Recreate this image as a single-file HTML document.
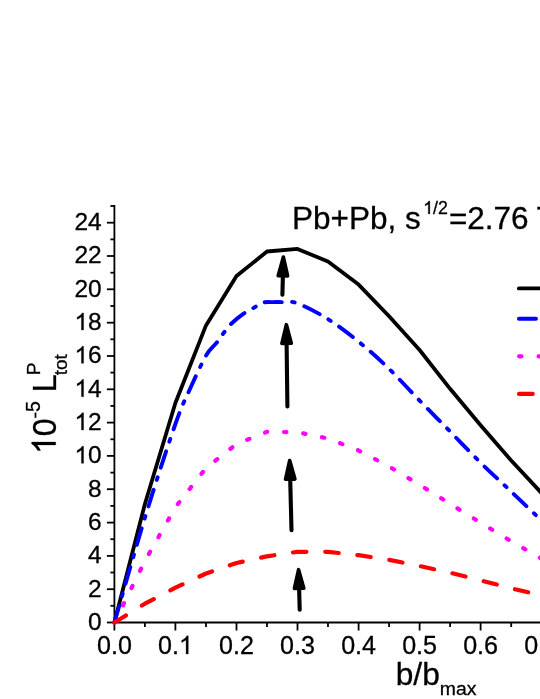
<!DOCTYPE html>
<html><head><meta charset="utf-8"><style>
html,body{margin:0;padding:0;background:#fff;}
body{width:540px;height:699px;overflow:hidden;position:relative;font-family:"Liberation Sans",sans-serif;}
svg{position:absolute;left:0;top:0;will-change:transform;}
text{font-family:"Liberation Sans",sans-serif;fill:#000;stroke:#000;stroke-width:0.3px;}
</style></head><body>
<svg width="540" height="699" viewBox="0 0 540 699">
<rect width="540" height="699" fill="#fff"/>

<g stroke="#000" stroke-width="1.8" fill="none">
<line x1="114.4" y1="205.1" x2="114.4" y2="623.4"/>
<line x1="113.5" y1="622.5" x2="540" y2="622.5"/>
<line x1="106.9" y1="622.5" x2="114.4" y2="622.5"/>
<line x1="110.4" y1="605.8" x2="114.4" y2="605.8"/>
<line x1="106.9" y1="589.2" x2="114.4" y2="589.2"/>
<line x1="110.4" y1="572.5" x2="114.4" y2="572.5"/>
<line x1="106.9" y1="555.9" x2="114.4" y2="555.9"/>
<line x1="110.4" y1="539.2" x2="114.4" y2="539.2"/>
<line x1="106.9" y1="522.6" x2="114.4" y2="522.6"/>
<line x1="110.4" y1="505.9" x2="114.4" y2="505.9"/>
<line x1="106.9" y1="489.2" x2="114.4" y2="489.2"/>
<line x1="110.4" y1="472.6" x2="114.4" y2="472.6"/>
<line x1="106.9" y1="455.9" x2="114.4" y2="455.9"/>
<line x1="110.4" y1="439.3" x2="114.4" y2="439.3"/>
<line x1="106.9" y1="422.6" x2="114.4" y2="422.6"/>
<line x1="110.4" y1="405.9" x2="114.4" y2="405.9"/>
<line x1="106.9" y1="389.3" x2="114.4" y2="389.3"/>
<line x1="110.4" y1="372.6" x2="114.4" y2="372.6"/>
<line x1="106.9" y1="356.0" x2="114.4" y2="356.0"/>
<line x1="110.4" y1="339.3" x2="114.4" y2="339.3"/>
<line x1="106.9" y1="322.7" x2="114.4" y2="322.7"/>
<line x1="110.4" y1="306.0" x2="114.4" y2="306.0"/>
<line x1="106.9" y1="289.3" x2="114.4" y2="289.3"/>
<line x1="110.4" y1="272.7" x2="114.4" y2="272.7"/>
<line x1="106.9" y1="256.0" x2="114.4" y2="256.0"/>
<line x1="110.4" y1="239.4" x2="114.4" y2="239.4"/>
<line x1="106.9" y1="222.7" x2="114.4" y2="222.7"/>
<line x1="110.4" y1="206.0" x2="114.4" y2="206.0"/>
<line x1="114.4" y1="622.5" x2="114.4" y2="630.5"/>
<line x1="144.9" y1="622.5" x2="144.9" y2="627.0"/>
<line x1="175.4" y1="622.5" x2="175.4" y2="630.5"/>
<line x1="206.0" y1="622.5" x2="206.0" y2="627.0"/>
<line x1="236.5" y1="622.5" x2="236.5" y2="630.5"/>
<line x1="267.0" y1="622.5" x2="267.0" y2="627.0"/>
<line x1="297.5" y1="622.5" x2="297.5" y2="630.5"/>
<line x1="328.0" y1="622.5" x2="328.0" y2="627.0"/>
<line x1="358.6" y1="622.5" x2="358.6" y2="630.5"/>
<line x1="389.1" y1="622.5" x2="389.1" y2="627.0"/>
<line x1="419.6" y1="622.5" x2="419.6" y2="630.5"/>
<line x1="450.1" y1="622.5" x2="450.1" y2="627.0"/>
<line x1="480.6" y1="622.5" x2="480.6" y2="630.5"/>
<line x1="511.2" y1="622.5" x2="511.2" y2="627.0"/>
<line x1="541.7" y1="622.5" x2="541.7" y2="630.5"/>
</g>
<text transform="translate(101.7,629.9) scale(1,0.975)" font-size="24.5" text-anchor="end">0</text>
<text transform="translate(101.7,596.6) scale(1,0.975)" font-size="24.5" text-anchor="end">2</text>
<text transform="translate(101.7,563.3) scale(1,0.975)" font-size="24.5" text-anchor="end">4</text>
<text transform="translate(101.7,530.0) scale(1,0.975)" font-size="24.5" text-anchor="end">6</text>
<text transform="translate(101.7,496.6) scale(1,0.975)" font-size="24.5" text-anchor="end">8</text>
<text transform="translate(101.7,463.3) scale(1,0.975)" font-size="24.5" text-anchor="end">0</text>
<path transform="translate(74.45,463.32) scale(0.01196,-0.01166)" d="M763 0H583V1147Q518 1085 412.5 1023T223 930V1104Q374 1175 487 1276T647 1472H763Z" fill="#000" stroke="#000" stroke-width="0.3" vector-effect="non-scaling-stroke"/>
<text transform="translate(101.7,430.0) scale(1,0.975)" font-size="24.5" text-anchor="end">2</text>
<path transform="translate(74.45,430.00) scale(0.01196,-0.01166)" d="M763 0H583V1147Q518 1085 412.5 1023T223 930V1104Q374 1175 487 1276T647 1472H763Z" fill="#000" stroke="#000" stroke-width="0.3" vector-effect="non-scaling-stroke"/>
<text transform="translate(101.7,396.7) scale(1,0.975)" font-size="24.5" text-anchor="end">4</text>
<path transform="translate(74.45,396.69) scale(0.01196,-0.01166)" d="M763 0H583V1147Q518 1085 412.5 1023T223 930V1104Q374 1175 487 1276T647 1472H763Z" fill="#000" stroke="#000" stroke-width="0.3" vector-effect="non-scaling-stroke"/>
<text transform="translate(101.7,363.4) scale(1,0.975)" font-size="24.5" text-anchor="end">6</text>
<path transform="translate(74.45,363.37) scale(0.01196,-0.01166)" d="M763 0H583V1147Q518 1085 412.5 1023T223 930V1104Q374 1175 487 1276T647 1472H763Z" fill="#000" stroke="#000" stroke-width="0.3" vector-effect="non-scaling-stroke"/>
<text transform="translate(101.7,330.1) scale(1,0.975)" font-size="24.5" text-anchor="end">8</text>
<path transform="translate(74.45,330.06) scale(0.01196,-0.01166)" d="M763 0H583V1147Q518 1085 412.5 1023T223 930V1104Q374 1175 487 1276T647 1472H763Z" fill="#000" stroke="#000" stroke-width="0.3" vector-effect="non-scaling-stroke"/>
<text transform="translate(101.7,296.7) scale(1,0.975)" font-size="24.5" text-anchor="end">20</text>
<text transform="translate(101.7,263.4) scale(1,0.975)" font-size="24.5" text-anchor="end">22</text>
<text transform="translate(101.7,230.1) scale(1,0.975)" font-size="24.5" text-anchor="end">24</text>
<text transform="translate(114.4,653.9) scale(1,1.000)" font-size="25.1" text-anchor="middle">0.0</text>
<text transform="translate(157.99,653.9) scale(1,1.000)" font-size="25.1">0.</text>
<path transform="translate(178.93,653.90) scale(0.01226,-0.01226)" d="M763 0H583V1147Q518 1085 412.5 1023T223 930V1104Q374 1175 487 1276T647 1472H763Z" fill="#000" stroke="#000" stroke-width="0.3" vector-effect="non-scaling-stroke"/>
<text transform="translate(236.5,653.9) scale(1,1.000)" font-size="25.1" text-anchor="middle">0.2</text>
<text transform="translate(297.5,653.9) scale(1,1.000)" font-size="25.1" text-anchor="middle">0.3</text>
<text transform="translate(358.6,653.9) scale(1,1.000)" font-size="25.1" text-anchor="middle">0.4</text>
<text transform="translate(419.6,653.9) scale(1,1.000)" font-size="25.1" text-anchor="middle">0.5</text>
<text transform="translate(480.6,653.9) scale(1,1.000)" font-size="25.1" text-anchor="middle">0.6</text>
<text transform="translate(541.7,653.9) scale(1,1.000)" font-size="25.1" text-anchor="middle">0.7</text>
<text transform="translate(395.7,684.6) scale(1,0.985)" font-size="31.7">b/b<tspan dy="10.8" font-size="19.4">max</tspan></text>
<g transform="translate(55.7,454) rotate(-90)"><path transform="scale(0.015625,-0.016328)" d="M763 0H583V1147Q518 1085 412.5 1023T223 930V1104Q374 1175 487 1276T647 1472H763Z" fill="#000" stroke="#000" stroke-width="0.3" vector-effect="non-scaling-stroke"/><text transform="translate(17.8,0) scale(1,1.045)" font-size="32">0</text><rect x="36.2" y="-21.1" width="5.2" height="1.75" fill="#000"/><text x="42.1" y="-15.4" font-size="19.5">5</text><text transform="translate(61.8,0) scale(1,1.045)" font-size="32">L</text><text x="78.7" y="-15.5" font-size="19">P</text><text x="78.7" y="11.3" font-size="19">tot</text></g>
<text transform="translate(292.1,228.9) scale(1,0.985)" font-size="31.5">Pb+Pb, s</text>
<path transform="translate(423.20,213.90) scale(0.00869,-0.00869)" d="M763 0H583V1147Q518 1085 412.5 1023T223 930V1104Q374 1175 487 1276T647 1472H763Z" fill="#000" stroke="#000" stroke-width="0.3" vector-effect="non-scaling-stroke"/>
<text transform="translate(433.1,213.9)" font-size="17.8">/2</text>
<text transform="translate(448.9,228.9) scale(1,0.985)" font-size="31.5">=2.76 TeV</text>
<g fill="none" stroke-linecap="round" stroke-linejoin="round">
<path d="M114.4 622.5 L144.9 504.0 L175.4 403.0 L206.0 325.4 L236.5 276.1 L267.0 251.5 L297.5 248.9 L328.0 261.6 L358.6 284.6 L389.1 316.3 L419.6 350.0 L450.1 388.8 L480.6 425.2 L511.2 460.5 L541.7 493.2" stroke="#000" stroke-width="3.8"/>
<path d="M114.4 622.5 L144.9 561.0 L175.4 507.2 L206.0 468.0 L236.5 444.0 L267.0 431.8 L297.5 432.2 L328.0 438.5 L358.6 450.5 L389.1 466.5 L419.6 484.8 L450.1 503.8 L480.6 522.8 L511.2 541.2 L541.7 558.7" stroke="#f0f" stroke-width="4.2" stroke-dasharray="2.40 16.81" stroke-dashoffset="0.00"/>
<path d="M114.4 622.5 C119.5 605.1 134.7 551.1 144.8 518.0 C155.0 484.9 167.8 445.6 175.4 424.0 C183.0 402.4 185.1 399.9 190.2 388.5 C195.3 377.1 201.8 363.1 206.1 355.5 C210.4 347.9 213.5 346.8 216.3 343.1 C219.2 339.5 220.8 336.7 223.2 333.6 C225.6 330.5 227.2 327.7 230.6 324.4 C234.0 321.1 239.6 316.5 243.6 313.7 C247.6 310.9 251.1 309.4 254.3 307.5 C257.5 305.6 259.7 303.5 262.8 302.6 C265.9 301.7 269.5 302.2 273.0 302.1 C276.5 302.0 279.8 302.0 283.9 302.2 C288.0 302.4 290.2 300.6 297.6 303.4 C305.0 306.2 318.0 312.8 328.1 319.2 C338.3 325.6 348.5 333.4 358.7 341.7 C368.9 350.0 379.1 359.1 389.2 369.0 C399.4 378.9 409.6 390.3 419.8 400.8 C430.0 411.3 440.2 421.4 450.4 431.8 C460.5 442.2 470.7 453.0 480.9 463.0 C491.1 473.0 501.3 482.1 511.4 491.8 C521.6 501.5 536.9 516.1 542.0 521.0" stroke="#00f" stroke-width="3.9" stroke-dasharray="17.20 10.20 2.80 10.19" stroke-dashoffset="0.00"/>
<path d="M114.4 622.5 L144.9 603.7 L175.4 587.7 L206.0 573.5 L236.5 563.0 L267.0 556.3 L297.5 551.8 L328.0 551.8 L358.6 555.2 L389.1 559.8 L419.6 566.0 L450.1 572.7 L480.6 580.4 L511.2 588.3 L541.7 595.5" stroke="#f00" stroke-width="4.2" stroke-dasharray="13.50 18.79" stroke-dashoffset="0.00"/>
<line x1="518.8" y1="288.4" x2="545" y2="288.4" stroke="#000" stroke-width="3.7"/>
<line x1="518.9" y1="318.8" x2="536" y2="318.8" stroke="#00f" stroke-width="3.9"/>
<line x1="519.1" y1="356.3" x2="545" y2="356.3" stroke="#f0f" stroke-width="4.2" stroke-dasharray="2.4 17.1"/>
<line x1="519" y1="393.9" x2="532.7" y2="393.9" stroke="#f00" stroke-width="4.2"/>
</g>
<line x1="282.4" y1="294.7" x2="282.9" y2="275.8" stroke="#000" stroke-width="4.1" stroke-linecap="round"/><polygon points="283.4,257.1 287.6,275.9 278.2,275.7" fill="#000" stroke="#000" stroke-width="3.6" stroke-linejoin="round"/>
<line x1="287.4" y1="406.5" x2="286.6" y2="343.4" stroke="#000" stroke-width="4.1" stroke-linecap="round"/><polygon points="286.4,324.7 291.3,343.3 281.9,343.5" fill="#000" stroke="#000" stroke-width="3.6" stroke-linejoin="round"/>
<line x1="291.5" y1="530.2" x2="290.2" y2="479.2" stroke="#000" stroke-width="4.1" stroke-linecap="round"/><polygon points="289.7,460.5 294.9,479.1 285.5,479.3" fill="#000" stroke="#000" stroke-width="3.6" stroke-linejoin="round"/>
<line x1="299.7" y1="609.8" x2="299.1" y2="588.4" stroke="#000" stroke-width="4.1" stroke-linecap="round"/><polygon points="298.6,569.7 303.8,588.3 294.4,588.5" fill="#000" stroke="#000" stroke-width="3.6" stroke-linejoin="round"/>
</svg></body></html>
